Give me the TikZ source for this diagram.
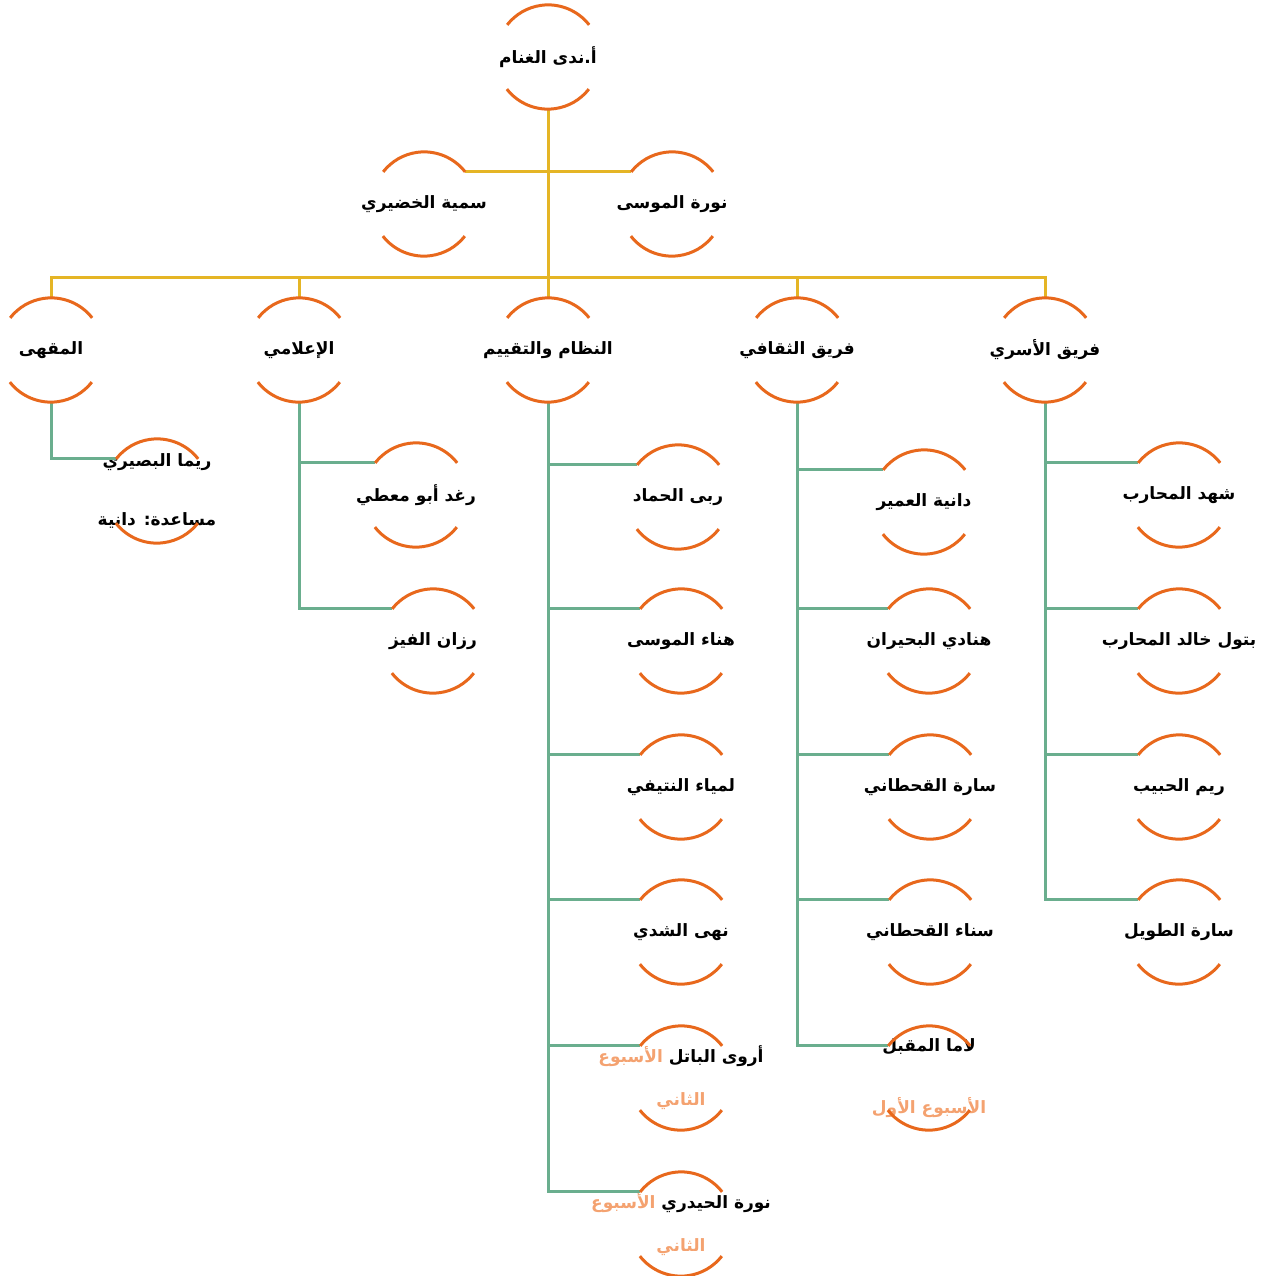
\documentclass[tikz,border=0pt]{standalone}
\usepackage{fontspec}
\TeXXeTstate=1
\newfontfamily\arabicfont[Script=Arabic]{DejaVu Sans}
\definecolor{ringorange}{RGB}{232,104,28}
\definecolor{linkgold}{RGB}{229,181,37}
\definecolor{linkgreen}{RGB}{106,174,142}
\definecolor{weeknote}{RGB}{244,162,112}
\tikzset{
  member/.style={circle, minimum size=104pt, inner sep=0pt, align=center,
    font=\arabicfont\bfseries\fontsize{17}{21}\selectfont},
  ringarc/.style={draw=ringorange, line width=3pt},
  upper/.style={draw=linkgold, line width=3pt},
  lower/.style={draw=linkgreen, line width=3pt},
}
% two open arcs (top and bottom) around a member node
\newcommand\ringof[1]{%
  \draw[ringarc] (#1.38) arc[start angle=38, end angle=142, radius=52pt];
  \draw[ringarc] (#1.218) arc[start angle=218, end angle=322, radius=52pt];}
% one right-to-left line of zero width, so the ring keeps its size
\newcommand\ar[1]{\makebox[0pt]{\beginR #1\endR}}
% a black name followed by an orange note on the same line
\newcommand\arnote[2]{\makebox[0pt]{{\color{weeknote}\beginR #2\endR} \beginR #1\endR}}
\begin{document}
\begin{tikzpicture}[x=1pt, y=1pt]
\useasboundingbox (0,0) rectangle (1269,-1276);

% head and assistants
\node[member] (root) at (548,-57) {\ar{أ.ندى الغنام}};
\node[member] (aideL) at (424,-204) {\ar{سمية الخضيري}};
\node[member] (aideR) at (672,-204) {\ar{نورة الموسى}};

% teams
\node[member] (cafe) at (51,-350) {\ar{المقهى}};
\node[member] (media) at (299,-350) {\ar{الإعلامي}};
\node[member] (order) at (548,-350) {\ar{النظام والتقييم}};
\node[member] (culture) at (797,-350) {\ar{فريق الثقافي}};
\node[member] (family) at (1045,-350) {\ar{فريق الأسري}};

% cafe
\node[member] (rima) at (157,-491) {\ar{ريما البصيري}\\[38pt]\ar{مساعدة: دانية}};

% media
\node[member] (raghad) at (416,-495) {\ar{رغد أبو معطي}};
\node[member] (razan) at (433,-641) {\ar{رزان الفيز}};

% order and evaluation
\node[member] (ruba) at (678,-497) {\ar{ربى الحماد}};
\node[member] (hanaa) at (681,-641) {\ar{هناء الموسى}};
\node[member] (lamya) at (681,-787) {\ar{لمياء النتيفي}};
\node[member] (noha) at (681,-932) {\ar{نهى الشدي}};
\node[member] (arwa) at (681,-1078) {\arnote{أروى الباتل}{الأسبوع}\\[22pt]{\color{weeknote}\ar{الثاني}}};
\node[member] (noura) at (681,-1224) {\arnote{نورة الحيدري}{الأسبوع}\\[22pt]{\color{weeknote}\ar{الثاني}}};

% culture
\node[member] (dania) at (924,-502) {\ar{دانية العمير}};
\node[member] (hanadi) at (929,-641) {\ar{هنادي البحيران}};
\node[member] (sara) at (930,-787) {\ar{سارة القحطاني}};
\node[member] (sanaa) at (930,-932) {\ar{سناء القحطاني}};
\node[member] (lama) at (929,-1078) {\ar{لاما المقبل}\\[41pt]{\color{weeknote}\ar{الأسبوع الأول}}};

% family
\node[member] (shahad) at (1179,-495) {\ar{شهد المحارب}};
\node[member] (batool) at (1179,-641) {\ar{بتول خالد المحارب}};
\node[member] (reem) at (1179,-787) {\ar{ريم الحبيب}};
\node[member] (saraT) at (1179,-932) {\ar{سارة الطويل}};

% upper links
\coordinate (bus) at (548,-277);
\draw[upper] (root.south) -- (bus);
\draw[upper] (aideL.38) -- (aideR.142);
\foreach \t in {cafe,media,order,culture,family}
  \draw[upper] (bus) -| (\t.north);

% team links
\draw[lower] (cafe.south) |- (rima.142);
\foreach \m in {raghad,razan}
  \draw[lower] (media.south) |- (\m.142);
\foreach \m in {ruba,hanaa,lamya,noha,arwa,noura}
  \draw[lower] (order.south) |- (\m.142);
\foreach \m in {dania,hanadi,sara,sanaa,lama}
  \draw[lower] (culture.south) |- (\m.142);
\foreach \m in {shahad,batool,reem,saraT}
  \draw[lower] (family.south) |- (\m.142);

% rings
\foreach \n in {root,aideL,aideR,cafe,media,order,culture,family,rima,raghad,razan,
  ruba,hanaa,lamya,noha,arwa,noura,dania,hanadi,sara,sanaa,lama,shahad,batool,reem,saraT}
  {\ringof{\n}}
\end{tikzpicture}
\end{document}
